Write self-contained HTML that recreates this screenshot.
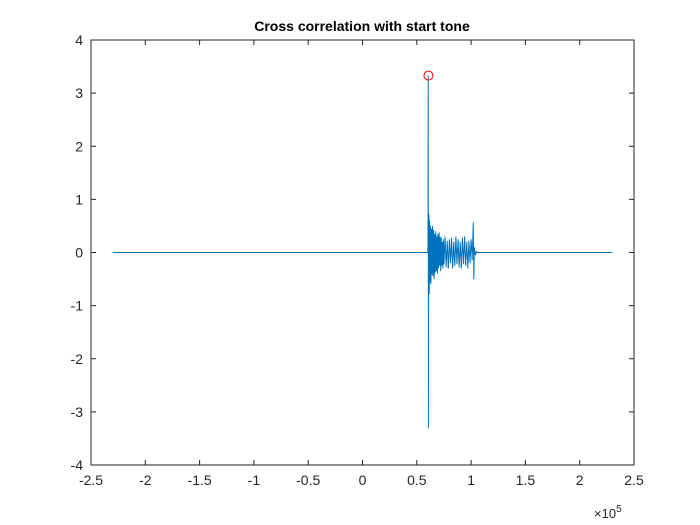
<!DOCTYPE html>
<html><head><meta charset="utf-8"><style>
body{margin:0;background:#fff;}
svg{display:block;font-family:"Liberation Sans",Arial,sans-serif;}
</style></head><body>
<svg id="chart" width="700" height="525" viewBox="0 0 700 525">
<rect x="0" y="0" width="700" height="525" fill="#fff"/>
<text x="362" y="31" text-anchor="middle" font-size="14" font-weight="bold" fill="#000">Cross correlation with start tone</text>
<g id="plot"></g>
</svg>
<script>
const xTicks=[-2.5,-2,-1.5,-1,-0.5,0,0.5,1,1.5,2,2.5];
const xTickLabels=["-2.5","-2","-1.5","-1","-0.5","0","0.5","1","1.5","2","2.5"];
const yTicks=[-4,-3,-2,-1,0,1,2,3,4];
const yTickLabels=["-4","-3","-2","-1","0","1","2","3","4"];
const seriesX=[-2.3,0.6,0.603,0.605,0.607,0.609,0.612,0.615,0.618,0.62,0.625,0.63,0.635,0.64,0.645,0.65,0.655,0.66,0.665,0.67,0.675,0.68,0.685,0.69,0.695,0.70,0.705,0.71,0.715,0.72,0.725,0.73,0.735,0.74,0.745,0.75,0.76,0.77,0.78,0.79,0.80,0.81,0.82,0.83,0.84,0.85,0.86,0.87,0.88,0.89,0.90,0.91,0.92,0.93,0.94,0.95,0.96,0.97,0.98,0.99,1.0,1.01,1.02,1.025,1.03,1.04,1.05,1.06,2.3];
const seriesY=[0,0,0.1,3.33,-3.31,0.3,0.72,-0.78,0.6,-0.55,0.5,-0.6,0.45,-0.42,0.5,-0.45,0.42,-0.5,0.35,-0.38,0.4,-0.35,0.3,-0.4,0.35,-0.3,0.38,-0.25,0.3,-0.35,0.28,-0.25,0.2,-0.3,0.25,-0.22,0.3,-0.28,0.22,-0.3,0.25,-0.2,0.28,-0.3,0.2,-0.25,0.3,-0.22,0.25,-0.28,0.2,-0.3,0.28,-0.22,0.3,-0.25,0.2,-0.3,0.22,-0.2,0.25,-0.15,0.57,-0.5,0.1,-0.05,0.02,0,0];
const peakX=[0.607];
const peakY=[3.33];

const L=91,R=634,T=40,B=465;
const sx=v=>L+(v+2.5)/5*(R-L);
const sy=v=>B-(v+4)/8*(B-T);
const NS="http://www.w3.org/2000/svg";
const g=document.getElementById('plot');
function mk(tag,attrs){const e=document.createElementNS(NS,tag);for(const k in attrs)e.setAttribute(k,attrs[k]);g.appendChild(e);return e;}

const box=mk('rect',{x:L,y:T,width:R-L,height:B-T,fill:'#fff',stroke:'#262626','stroke-width':1});



xTicks.forEach((v,i)=>{
  const x=sx(v);
  const t1=mk('line',{x1:x,x2:x,y1:B,y2:B-5,stroke:'#262626'});
  
  
  const t2=mk('line',{x1:x,x2:x,y1:T,y2:T+5,stroke:'#262626'});
  
  
  const tx=mk('text',{x:x,y:B+20,'text-anchor':'middle','font-size':14,fill:'#262626'});
  tx.textContent=xTickLabels[i];
  
  
});
yTicks.forEach((v,i)=>{
  const y=sy(v);
  const t1=mk('line',{x1:L,x2:L+5,y1:y,y2:y,stroke:'#262626'});
  
  
  const t2=mk('line',{x1:R,x2:R-5,y1:y,y2:y,stroke:'#262626'});
  
  
  const tx=mk('text',{x:L-8,y:y+5,'text-anchor':'end','font-size':14,fill:'#262626'});
  tx.textContent=yTickLabels[i];
  
  
});
const ex=mk('text',{x:R-40,y:B+53,'font-size':13,fill:'#262626'});
ex.innerHTML='×10<tspan dy="-6" font-size="10">5</tspan>';



const pts=seriesX.map((v,i)=>sx(v).toFixed(2)+','+sy(seriesY[i]).toFixed(2)).join(' ');
const line=mk('polyline',{points:pts,fill:'none',stroke:'#0072BD','stroke-width':1});



peakX.forEach((v,i)=>{
  const c=mk('circle',{cx:sx(v),cy:sy(peakY[i]),r:4.5,fill:'none',stroke:'#FF0000','stroke-width':1});
  
  
});
</script>
</body></html>
